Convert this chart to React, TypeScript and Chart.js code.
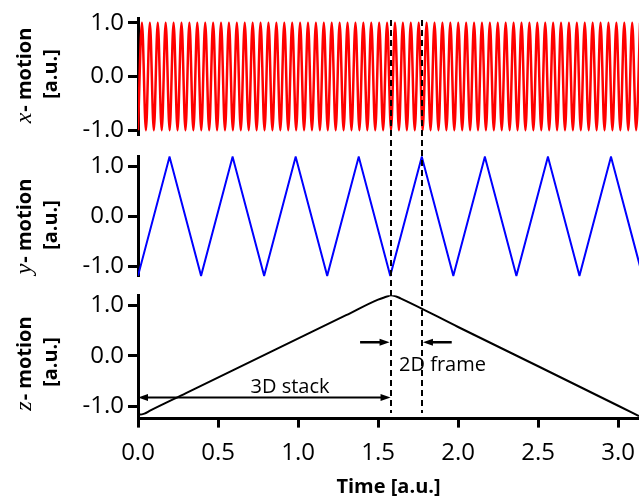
import React, { useEffect, useRef } from 'react';
import { Chart, registerables } from 'chart.js';

Chart.register(...registerables);

// ---------- data ----------
const X_MIN = 0;
const X_MAX = 3.13;
const xTickValues = [0, 0.5, 1, 1.5, 2, 2.5, 3];
const yTickValues = [-1, 0, 1];

// x-motion: extrema of the fast sine (troughs / crests)
const xMotionTimes = [
  0, 0.0247, 0.0494, 0.0741, 0.0988, 0.1235, 0.1482, 0.1729, 0.1976, 0.2223,
  0.247, 0.2717, 0.2964, 0.3211, 0.3458, 0.3705, 0.3952, 0.4199, 0.4446, 0.4693,
  0.494, 0.5187, 0.5434, 0.5681, 0.5928, 0.6175, 0.6422, 0.6669, 0.6916, 0.7163,
  0.741, 0.7657, 0.7904, 0.8151, 0.8398, 0.8645, 0.8892, 0.9139, 0.9386, 0.9633,
  0.988, 1.0127, 1.0374, 1.0621, 1.0868, 1.1115, 1.1362, 1.1609, 1.1856, 1.2103,
  1.235, 1.2597, 1.2844, 1.3091, 1.3338, 1.3585, 1.3832, 1.4079, 1.4326, 1.4573,
  1.482, 1.5067, 1.5314, 1.5561, 1.5808, 1.6055, 1.6302, 1.6549, 1.6796, 1.7043,
  1.729, 1.7537, 1.7784, 1.8031, 1.8278, 1.8525, 1.8772, 1.9019, 1.9266, 1.9513,
  1.976, 2.0007, 2.0254, 2.0501, 2.0748, 2.0995, 2.1242, 2.1489, 2.1736, 2.1983,
  2.223, 2.2477, 2.2724, 2.2971, 2.3218, 2.3465, 2.3712, 2.3959, 2.4206, 2.4453,
  2.47, 2.4947, 2.5194, 2.5441, 2.5688, 2.5935, 2.6182, 2.6429, 2.6676, 2.6923,
  2.717, 2.7417, 2.7664, 2.7911, 2.8158, 2.8405, 2.8652, 2.8899, 2.9146, 2.9393,
  2.964, 2.9887, 3.0134, 3.0381, 3.0628, 3.0875, 3.1122, 3.1369,
];
const xMotionValues = [
  -1, 1, -1, 1, -1, 1, -1, 1, -1, 1, -1, 1, -1, 1, -1, 1,
  -1, 1, -1, 1, -1, 1, -1, 1, -1, 1, -1, 1, -1, 1, -1, 1,
  -1, 1, -1, 1, -1, 1, -1, 1, -1, 1, -1, 1, -1, 1, -1, 1,
  -1, 1, -1, 1, -1, 1, -1, 1, -1, 1, -1, 1, -1, 1, -1, 1,
  -1, 1, -1, 1, -1, 1, -1, 1, -1, 1, -1, 1, -1, 1, -1, 1,
  -1, 1, -1, 1, -1, 1, -1, 1, -1, 1, -1, 1, -1, 1, -1, 1,
  -1, 1, -1, 1, -1, 1, -1, 1, -1, 1, -1, 1, -1, 1, -1, 1,
  -1, 1, -1, 1, -1, 1, -1, 1, -1, 1, -1, 1, -1, 1, -1, 1,
];

// y-motion: triangle wave vertices
const yMotionTimes = [
  0, 0.197, 0.394, 0.591, 0.788, 0.985, 1.182, 1.379, 1.576,
  1.773, 1.97, 2.167, 2.364, 2.561, 2.758, 2.955, 3.152,
];
const yMotionValues = [
  -1.19, 1.19, -1.19, 1.19, -1.19, 1.19, -1.19, 1.19, -1.19,
  1.19, -1.19, 1.19, -1.19, 1.19, -1.19, 1.19, -1.19,
];

// z-motion: slow ramp up and down
const zMotionTimes = [0, 0.0125, 0.04, 0.075, 0.3, 0.8, 1.3, 1.5, 1.55, 1.58, 1.61, 1.64, 2.0, 2.5, 3.0, 3.13];
const zMotionValues = [-1.13, -1.17, -1.15, -1.093, -0.745, 0.03, 0.805, 1.115, 1.17, 1.2, 1.18, 1.14, 0.57, -0.21, -0.995, -1.2];

// dashed marker times (3D stack end / 2D frame end)
const markerTimes = [1.578, 1.774];

// annotation anchors (data units of the z panel)
const stackArrow = { from: 0, to: 1.578, y: -0.83 };
const stackLabel = { text: '3D stack', x: 0.95, y: -0.735 };
const frameArrows = { leftFrom: 1.3875, rightFrom: 1.96, y: 0.266 };
const frameLabel = { text: '2D frame', x: 1.631, y: -0.3 };

// ---------- styling / layout ----------
const SANS = '"Open Sans", "Noto Sans", sans-serif';
const SERIF = '"Liberation Serif", "DejaVu Serif", serif';
const W = 639;
const AXIS_LEFT = 138;
const DASH_START = 20;
const DASH_END = 413;

type PanelCfg = {
  key: string;
  top: number;
  height: number;
  padTop: number;
  padBottom: number;
  yMin: number;
  yMax: number;
  showX: boolean;
  times: number[];
  values: number[];
  color: string;
  lineWidth: number;
  smooth: boolean;
  titleVar: string;
  titleCY: number;
  annotate: boolean;
};

const panels: PanelCfg[] = [
  { key: 'x', top: 0, height: 146, padTop: 18, padBottom: 11, yMin: -1.09, yMax: 1.09, showX: false,
    times: xMotionTimes, values: xMotionValues, color: '#ff0000', lineWidth: 2.5, smooth: true,
    titleVar: 'x', titleCY: 76, annotate: false },
  { key: 'y', top: 146, height: 141, padTop: 10.3, padBottom: 10.7, yMin: -1.2, yMax: 1.2, showX: false,
    times: yMotionTimes, values: yMotionValues, color: '#0000ff', lineWidth: 2, smooth: false,
    titleVar: 'y', titleCY: 227, annotate: false },
  { key: 'z', top: 287, height: 210, padTop: 8.3, padBottom: 0, yMin: -1.25, yMax: 1.2, showX: true,
    times: zMotionTimes, values: zMotionValues, color: '#000000', lineWidth: 2, smooth: true,
    titleVar: 'z', titleCY: 364, annotate: true },
];

function arrowHead(ctx: CanvasRenderingContext2D, x: number, y: number, dir: number, len: number, half: number) {
  ctx.beginPath();
  ctx.moveTo(x, y);
  ctx.lineTo(x - dir * len, y - half);
  ctx.lineTo(x - dir * len, y + half);
  ctx.closePath();
  ctx.fill();
}

const decorPlugin = {
  id: 'decor',
  afterDatasetsDraw(chart: any, _args: any, opts: any) {
    const ctx: CanvasRenderingContext2D = chart.ctx;
    const xs = chart.scales.x;
    const ys = chart.scales.y;
    const cfg: PanelCfg = opts.cfg;
    // dashed vertical markers
    const y0 = Math.max(0, DASH_START - cfg.top);
    const y1 = Math.min(cfg.height, DASH_END - cfg.top);
    ctx.save();
    ctx.strokeStyle = '#000';
    ctx.lineWidth = 2;
    ctx.setLineDash([6, 4]);
    ctx.lineDashOffset = cfg.top + y0 - DASH_START;
    markerTimes.forEach((t) => {
      const px = Math.round(xs.getPixelForValue(t));
      ctx.beginPath();
      ctx.moveTo(px, y0);
      ctx.lineTo(px, y1);
      ctx.stroke();
    });
    ctx.restore();

    if (cfg.annotate) {
      ctx.save();
      ctx.strokeStyle = '#000';
      ctx.fillStyle = '#000';
      // 3D stack double arrow
      const ax0 = xs.getPixelForValue(stackArrow.from);
      const ax1 = xs.getPixelForValue(stackArrow.to);
      const ay = ys.getPixelForValue(stackArrow.y);
      ctx.lineWidth = 2;
      ctx.beginPath();
      ctx.moveTo(ax0 + 6, ay);
      ctx.lineTo(ax1 - 6, ay);
      ctx.stroke();
      arrowHead(ctx, ax0, ay, -1, 10, 3.5);
      arrowHead(ctx, ax1, ay, 1, 10, 3.5);
      // 2D frame arrows
      const fy = ys.getPixelForValue(frameArrows.y);
      const m0 = xs.getPixelForValue(markerTimes[0]);
      const m1 = xs.getPixelForValue(markerTimes[1]);
      const l0 = xs.getPixelForValue(frameArrows.leftFrom);
      const r0 = xs.getPixelForValue(frameArrows.rightFrom);
      ctx.lineWidth = 2.5;
      ctx.beginPath();
      ctx.moveTo(l0, fy);
      ctx.lineTo(m0 - 6, fy);
      ctx.moveTo(r0, fy);
      ctx.lineTo(m1 + 6, fy);
      ctx.stroke();
      arrowHead(ctx, m0 - 1, fy, 1, 10, 3.5);
      arrowHead(ctx, m1 + 1, fy, -1, 10, 3.5);
      // labels
      ctx.font = '20px ' + SANS;
      ctx.textBaseline = 'alphabetic';
      ctx.textAlign = 'center';
      ctx.fillText(stackLabel.text, xs.getPixelForValue(stackLabel.x), ys.getPixelForValue(stackLabel.y));
      ctx.textAlign = 'left';
      ctx.fillText(frameLabel.text, xs.getPixelForValue(frameLabel.x), ys.getPixelForValue(frameLabel.y));
      ctx.restore();
    }
  },
  afterDraw(chart: any, _args: any, opts: any) {
    const ctx: CanvasRenderingContext2D = chart.ctx;
    const cfg: PanelCfg = opts.cfg;
    const cy = cfg.titleCY - cfg.top;
    ctx.save();
    ctx.fillStyle = '#000';
    ctx.textBaseline = 'middle';
    // line 1: italic variable + "- motion"
    ctx.save();
    ctx.translate(25, cy);
    ctx.rotate(-Math.PI / 2);
    const varFont = 'italic 24px ' + SERIF;
    const restFont = 'bold 20px ' + SANS;
    ctx.font = varFont;
    const w1 = ctx.measureText(cfg.titleVar).width;
    ctx.font = restFont;
    const rest = '- motion';
    const w2 = ctx.measureText(rest).width;
    const sx = -(w1 + w2) / 2;
    ctx.textAlign = 'left';
    ctx.font = varFont;
    ctx.fillText(cfg.titleVar, sx, 0);
    ctx.font = restFont;
    ctx.fillText(rest, sx + w1 + 1, 0);
    ctx.restore();
    // line 2
    ctx.save();
    ctx.translate(51, cy - 2);
    ctx.rotate(-Math.PI / 2);
    ctx.font = 'bold 20px ' + SANS;
    ctx.textAlign = 'center';
    ctx.fillText('[a.u.]', 0, 0);
    ctx.restore();
    ctx.restore();
  },
};

function buildConfig(cfg: PanelCfg): any {
  const fmt = (v: any) => Number(v).toFixed(1);
  return {
    type: 'line',
    data: {
      datasets: [
        {
          data: cfg.times.map((t, i) => ({ x: t, y: cfg.values[i] })),
          borderColor: cfg.color,
          borderWidth: cfg.lineWidth,
          pointRadius: 0,
          fill: false,
          tension: 0,
          cubicInterpolationMode: cfg.smooth ? 'monotone' : 'default',
        },
      ],
    },
    options: {
      animation: false,
      responsive: false,
      devicePixelRatio: 1,
      events: [],
      layout: { padding: { top: cfg.padTop, bottom: cfg.padBottom, left: 0, right: 0 } },
      plugins: {
        legend: { display: false },
        tooltip: { enabled: false },
        decor: { cfg },
      },
      scales: {
        x: {
          type: 'linear',
          min: X_MIN,
          max: X_MAX,
          display: cfg.showX,
          afterBuildTicks: (s: any) => {
            s.ticks = xTickValues.map((v) => ({ value: v }));
          },
          afterFit: (s: any) => {
            s.height = cfg.showX ? 78.4 : 0;
            s.paddingLeft = 0;
            s.paddingRight = 0;
          },
          grid: { drawOnChartArea: false, drawTicks: true, tickLength: 9, tickWidth: 3, tickColor: '#000' },
          border: { display: true, width: 3, color: '#000' },
          ticks: { padding: 11, color: '#000', font: { size: 24, family: SANS }, callback: fmt, maxRotation: 0 },
          title: {
            display: true,
            text: 'Time [a.u.]',
            color: '#000',
            padding: { top: 0, bottom: 0 },
            font: { size: 20, weight: 'bold', family: SANS, lineHeight: 1 },
          },
        },
        y: {
          type: 'linear',
          min: cfg.yMin,
          max: cfg.yMax,
          afterBuildTicks: (s: any) => {
            s.ticks = yTickValues.map((v) => ({ value: v }));
          },
          afterFit: (s: any) => {
            s.width = AXIS_LEFT;
            s.paddingTop = 0;
            s.paddingBottom = 0;
          },
          grid: { drawOnChartArea: false, drawTicks: true, tickLength: 10, tickWidth: 3, tickColor: '#000' },
          border: { display: true, width: 3, color: '#000' },
          ticks: { padding: 4, color: '#000', font: { size: 24, family: SANS }, callback: fmt, autoSkip: false },
        },
      },
    },
    plugins: [decorPlugin],
  };
}

function Panel({ cfg }: { cfg: PanelCfg }) {
  const ref = useRef<HTMLCanvasElement>(null);
  useEffect(() => {
    if (!ref.current) return;
    const chart = new Chart(ref.current, buildConfig(cfg));
    return () => chart.destroy();
  }, [cfg]);
  return (
    <canvas
      ref={ref}
      width={W}
      height={cfg.height}
      style={{ position: 'absolute', left: 0, top: cfg.top, width: W, height: cfg.height, display: 'block' }}
    />
  );
}

export default function App() {
  return (
    <div style={{ position: 'absolute', left: 0, top: 0, width: W, height: 497, background: '#fff', overflow: 'hidden' }}>
      {panels.map((p) => (
        <Panel key={p.key} cfg={p} />
      ))}
    </div>
  );
}
